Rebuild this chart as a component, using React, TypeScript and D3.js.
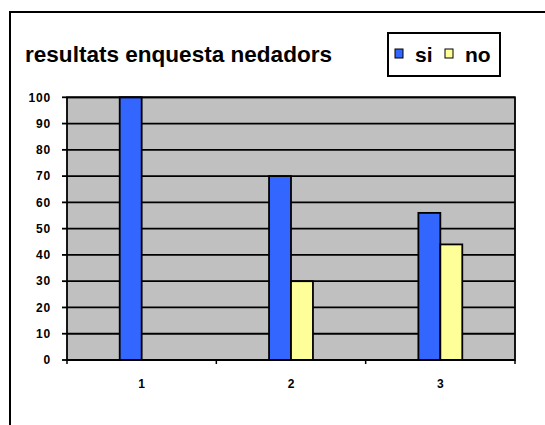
import React from "react";
import * as d3 from "d3";

const categories = ["1", "2", "3"];
const seriesNames = ["si", "no"];
const siValues = [100, 70, 56];
const noValues = [0, 30, 44];
const yTicks = [0, 10, 20, 30, 40, 50, 60, 70, 80, 90, 100];
const colors = ["#3366FF", "#FFFF99"];
const title = "resultats enquesta nedadors";

export default function App() {
  const W = 545, H = 425;
  const plot = { left: 67, top: 97.3, right: 515, bottom: 360 };
  const x = d3.scaleBand<string>().domain(categories).range([plot.left, plot.right]);
  const y = d3.scaleLinear().domain([0, 100]).range([plot.bottom, plot.top]);
  const barW = x.bandwidth() * 0.147;
  const series = [siValues, noValues];
  const font = "'Liberation Sans', Arial, sans-serif";

  return (
    <svg width={W} height={H} style={{ position: "absolute", left: 0, top: 0, background: "#fff" }}>
      <rect x={10} y={12} width={560} height={440} fill="#fff" stroke="#000" strokeWidth={2} />
      <text x={25} y={62} fontFamily={font} fontWeight="bold" fontSize={22.5} textLength={307} lengthAdjust="spacingAndGlyphs" fill="#000">{title}</text>
      {/* legend */}
      <rect x={388} y={33} width={112} height={43} fill="#fff" stroke="#000" strokeWidth={2} />
      {seriesNames.map((s, i) => {
        const lx = i === 0 ? 395 : 445;
        return (
          <g key={s}>
            <rect x={lx} y={49} width={8} height={9} fill={colors[i]} stroke="#000" strokeWidth={1} />
            <text x={lx + 20} y={62} fontFamily={font} fontWeight="bold" fontSize={21}>{s}</text>
          </g>
        );
      })}
      {/* plot area */}
      <rect x={plot.left} y={plot.top} width={plot.right - plot.left} height={plot.bottom - plot.top} fill="#C0C0C0" />
      {yTicks.map((t) => (
        <g key={t}>
          <line x1={plot.left} x2={plot.right} y1={y(t)} y2={y(t)} stroke="#000" strokeWidth={1.8} />
          <line x1={plot.left - 5} x2={plot.left} y1={y(t)} y2={y(t)} stroke="#000" strokeWidth={1.8} />
          <text x={51} y={y(t)} dy="0.35em" textAnchor="end" fontFamily={font} fontWeight="bold" fontSize={12} letterSpacing={0.8}>{t}</text>
        </g>
      ))}
      {categories.map((c, ci) =>
        series.map((vals, si) => {
          const v = vals[ci];
          if (v <= 0) return null;
          const cx = (x(c) as number) + x.bandwidth() / 2;
          const bx = cx - barW + si * barW;
          return (
            <rect key={c + si} x={bx} y={y(v)} width={barW} height={y(0) - y(v)} fill={colors[si]} stroke="#000" strokeWidth={1.8} />
          );
        })
      )}
      <rect x={plot.left} y={plot.top} width={plot.right - plot.left} height={plot.bottom - plot.top} fill="none" stroke="#000" strokeWidth={1.8} />
      <line x1={plot.left} x2={plot.right} y1={plot.bottom} y2={plot.bottom} stroke="#000" strokeWidth={2} />
      {[plot.left, ...categories.map((c) => (x(c) as number) + x.bandwidth())].map((tx, i) => (
        <line key={i} x1={tx} x2={tx} y1={plot.bottom} y2={plot.bottom + 4} stroke="#000" strokeWidth={1.5} />
      ))}
      {categories.map((c) => (
        <text key={c} x={(x(c) as number) + x.bandwidth() / 2} y={388} textAnchor="middle" fontFamily={font} fontWeight="bold" fontSize={12}>{c}</text>
      ))}
    </svg>
  );
}
